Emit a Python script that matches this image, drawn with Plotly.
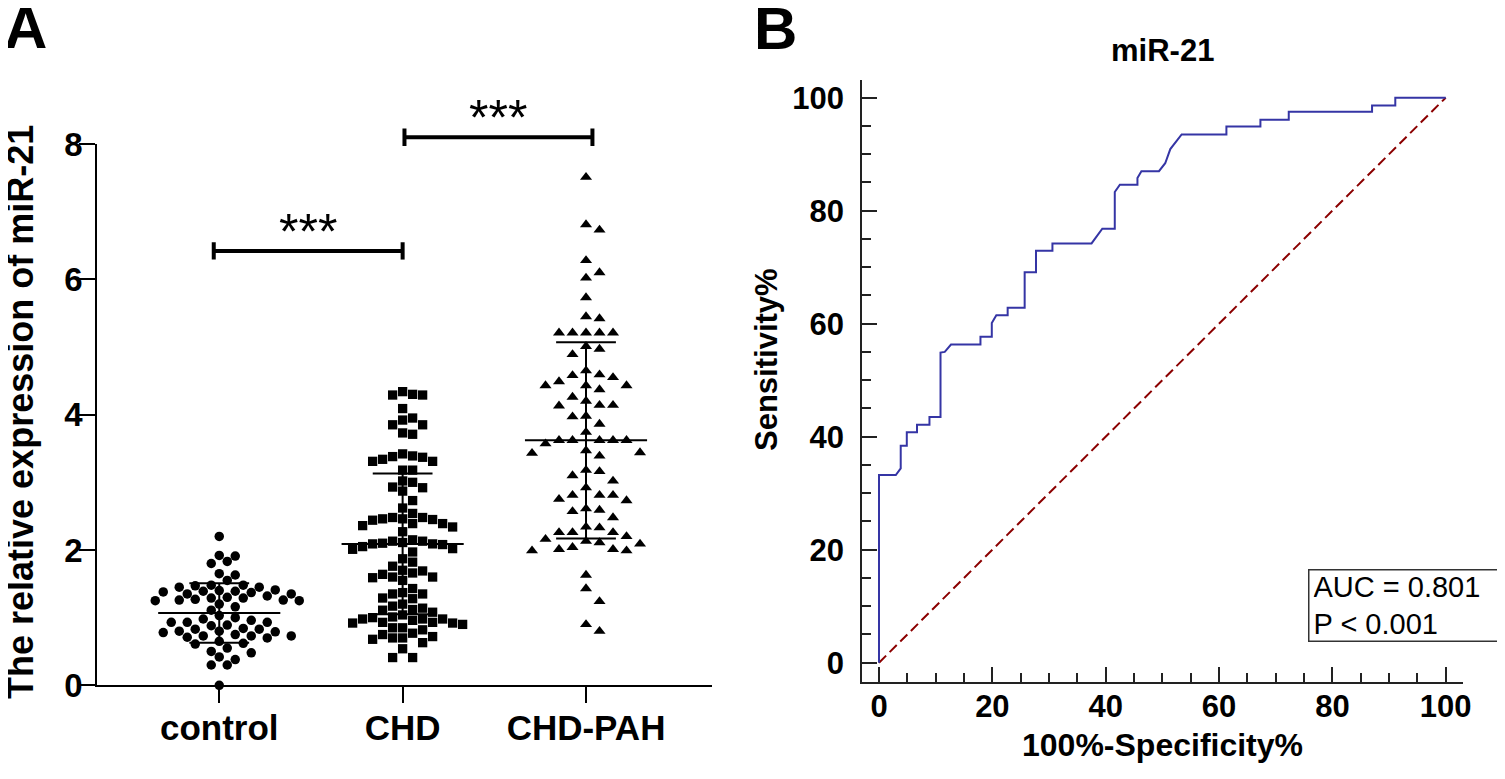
import numpy as np
import plotly.graph_objects as go

# ---- panel A: relative expression of miR-21 per group ----
groups = ["control", "CHD", "CHD-PAH"]
control_vals = [2.20, 1.92, 1.91, 1.83, 1.80, 1.65, 1.63, 1.55, 1.48, 1.48, 1.47, 1.45, 1.45,
                1.41, 1.40, 1.39, 1.39, 1.38, 1.37, 1.35, 1.35, 1.32, 1.30, 1.29, 1.29, 1.27,
                1.26, 1.26, 1.25, 1.25, 1.20, 1.16, 1.11, 1.03, 1.00, 0.98, 0.96, 0.93, 0.93,
                0.93, 0.89, 0.88, 0.84, 0.83, 0.83, 0.80, 0.80, 0.79, 0.78, 0.75, 0.73, 0.73,
                0.73, 0.71, 0.70, 0.65, 0.62, 0.61, 0.55, 0.50, 0.48, 0.42, 0.38, 0.30, 0.30, 0.00]
chd_vals = [4.34, 4.30, 4.29, 4.29, 4.09, 3.95, 3.92, 3.85, 3.85, 3.73, 3.71, 3.42, 3.39, 3.38,
            3.37, 3.34, 3.31, 3.31, 3.18, 3.18, 3.02, 3.00, 2.93, 2.92, 2.87, 2.73, 2.62, 2.54,
            2.48, 2.48, 2.46, 2.46, 2.45, 2.44, 2.39, 2.39, 2.36, 2.34, 2.27, 2.15, 2.13, 2.13,
            2.11, 2.10, 2.09, 2.09, 2.08, 2.05, 2.02, 2.01, 1.97, 1.87, 1.82, 1.76, 1.70, 1.69,
            1.66, 1.64, 1.60, 1.60, 1.59, 1.55, 1.43, 1.37, 1.35, 1.35, 1.29, 1.28, 1.20, 1.17,
            1.14, 1.12, 1.11, 1.08, 1.04, 1.01, 1.00, 0.98, 0.98, 0.98, 0.96, 0.93, 0.93, 0.92,
            0.92, 0.90, 0.85, 0.85, 0.82, 0.77, 0.75, 0.72, 0.70, 0.70, 0.68, 0.63, 0.54, 0.41, 0.41]
pah_vals = [7.51, 6.81, 6.73, 6.28, 6.10, 6.02, 5.73, 5.45, 5.42, 5.21, 5.21, 5.21, 5.21, 5.21,
            5.01, 4.97, 4.89, 4.65, 4.59, 4.58, 4.55, 4.49, 4.43, 4.43, 4.43, 4.37, 4.26, 4.20,
            4.14, 4.14, 4.13, 3.98, 3.97, 3.86, 3.74, 3.62, 3.62, 3.62, 3.62, 3.62, 3.57, 3.47,
            3.44, 3.43, 3.39, 3.18, 3.16, 3.10, 3.02, 2.92, 2.81, 2.81, 2.81, 2.75, 2.73, 2.61,
            2.59, 2.57, 2.48, 2.34, 2.33, 2.26, 2.26, 2.26, 2.20, 2.16, 2.13, 2.11, 2.09, 2.04,
            2.01, 2.01, 1.99, 1.99, 1.63, 1.43, 1.24, 0.90, 0.80]
group_mean = [1.07, 2.09, 3.62]
group_sd = [0.44, 1.04, 1.45]
sig_pairs = [(0, 1), (1, 2)]
sig_level = [6.42, 8.10]
sig_text = ["***", "***"]

# ---- panel B: ROC curve ----
roc_fpr = [0, 0, 2.96, 3.83, 3.83, 4.9, 4.9, 6.7, 6.7, 8.9, 8.9, 10.85, 10.85, 11.6, 12.7, 17.9,
           17.9, 19.9, 19.9, 20.7, 22.7, 22.7, 25.7, 25.7, 27.7, 27.7, 30.6, 30.6, 37.5, 39.4,
           41.6, 41.6, 42.5, 45.6, 45.6, 46.3, 49.4, 50.5, 51.4, 53.4, 61.3, 61.3, 67.3, 67.3,
           72.3, 72.3, 87.0, 87.0, 91.1, 91.1, 100]
roc_tpr = [0, 33.2, 33.2, 34.4, 38.4, 38.4, 40.8, 40.8, 42.1, 42.1, 43.5, 43.5, 54.9, 55.0, 56.3,
           56.3, 57.7, 57.7, 60.1, 61.5, 61.5, 62.8, 62.8, 69.1, 69.1, 72.9, 72.9, 74.2, 74.2,
           76.8, 76.8, 83.3, 84.6, 84.6, 85.8, 87.0, 87.0, 88.4, 90.9, 93.5, 93.5, 94.9, 94.9,
           96.1, 96.1, 97.5, 97.5, 98.6, 98.6, 100, 100]
auc_text = "AUC = 0.801"
p_text = "P &lt; 0.001"

W, H = 1505, 779
OFF = 8  # page body margin shifts the whole figure by this much
FONT = "Liberation Sans, Arial, sans-serif"

# pixel boxes of the two plot areas (as seen on screen)
a_left, a_right, a_top, a_bot = 97.3, 712.0, 144.0, 685.3
b_left, b_right, b_top, b_bot = 862.3, 1463.3, 79.6, 681.9
a_xrange = [-0.665, 2.687]
a_yrange = [0, 8]
b_xrange = [-2.95, 103.1]
b_yrange = [-3.4, 103.2]

py_unit = (a_bot - a_top) / (a_yrange[1] - a_yrange[0])
px_cat = (a_right - a_left) / (a_xrange[1] - a_xrange[0])


def swarm(vals, step, gap):
    # simple beeswarm: slide each point sideways until it no longer overlaps
    placed, offs = [], []
    order = [0]
    for j in range(1, 60):
        order += [j, -j]
    for v in vals:
        y = v * py_unit
        for c in order:
            x = c * step
            if all((x - qx) ** 2 + (y - qy) ** 2 >= gap ** 2 for qx, qy in placed):
                break
        placed.append((x, y))
        offs.append(x / px_cat)
    return offs


fig = go.Figure()

styles = [("circle", 9.5, 8.0, 9.5), ("square", 9.3, 10.0, 10.0), ("triangle-up", 10.5, 13.5, 13.0)]
for i, (vals, (sym, size, step, gap)) in enumerate(zip([control_vals, chd_vals, pah_vals], styles)):
    offs = swarm(vals, step, gap)
    fig.add_trace(go.Scatter(
        x=[i + o for o in offs], y=vals, mode="markers", cliponaxis=False,
        marker=dict(symbol=sym, size=size, color="black", line=dict(width=0)),
        showlegend=False, hoverinfo="y", xaxis="x", yaxis="y"))

mx, my = [], []
for i, (m, s) in enumerate(zip(group_mean, group_sd)):
    mx += [i - 0.333, i + 0.333, None, i - 0.163, i + 0.163, None,
           i - 0.163, i + 0.163, None, i, i, None]
    my += [m, m, None, m + s, m + s, None, m - s, m - s, None, m - s, m + s, None]
fig.add_trace(go.Scatter(x=mx, y=my, mode="lines", line=dict(color="black", width=2),
                         showlegend=False, hoverinfo="skip", xaxis="x", yaxis="y"))

shapes = []
annotations = []
cap = 0.128
d = a_yrange[1]
for (g1, g2), lvl, txt_ in zip(sig_pairs, sig_level, sig_text):
    x0, x1 = g1 + (0.01 if g1 else -0.03), g2 + (0.035 if g2 == 2 else 0.0)
    for seg in [(x0, lvl, x1, lvl), (x0, lvl - cap, x0, lvl + cap), (x1, lvl - cap, x1, lvl + cap)]:
        shapes.append(dict(type="line", xref="x", yref="y domain",
                           x0=seg[0], x1=seg[2], y0=seg[1] / d, y1=seg[3] / d,
                           line=dict(color="black", width=4)))
    annotations.append(dict(x=(x0 + x1) / 2, y=(lvl + 0.28) / d, xref="x", yref="y domain",
                            text=txt_, showarrow=False,
                            font=dict(size=50, color="black", family=FONT),
                            xanchor="center", yanchor="middle"))

fig.add_trace(go.Scatter(x=[0, 100], y=[0, 100], mode="lines",
                         line=dict(color="#8b0000", width=2, dash="10px,5px"),
                         showlegend=False, hoverinfo="skip", xaxis="x2", yaxis="y2"))
fig.add_trace(go.Scatter(x=roc_fpr, y=roc_tpr, mode="lines",
                         line=dict(color="#3535a5", width=2),
                         showlegend=False, xaxis="x2", yaxis="y2"))


def pxdom_x(a, b):
    return [(a - OFF) / W, (b - OFF) / W]


def pxdom_y(top, bot):
    return [1 - (bot - OFF) / H, 1 - (top - OFF) / H]


def txt(text, xp, yp, size, bold=True, angle=0, **kw):
    d = dict(text=text, x=(xp - OFF) / W, y=1 - (yp - OFF) / H, xref="paper", yref="paper",
             showarrow=False, textangle=angle, xanchor="center", yanchor="middle",
             font=dict(size=size, color="black", family=FONT, weight="bold" if bold else "normal"))
    d.update(kw)
    return d


annotations += [
    txt("A", 25, 27, 60),
    txt("B", 776, 29, 60),
    txt("The relative expression of miR-21", 21, 412, 36, angle=-90),
    txt("miR-21", 1162, 50, 31),
    txt("Sensitivity%", 766, 360, 31, angle=-90),
    txt("100%-Specificity%", 1162, 745, 32),
    dict(text=auc_text + "<br>" + p_text, x=(1307.7 - OFF) / W, y=1 - (569.3 - OFF) / H,
         xref="paper", yref="paper", showarrow=False, xanchor="left", yanchor="top",
         align="left", width=183, height=62, borderpad=4, bordercolor="#333", borderwidth=1.5,
         bgcolor="white", font=dict(size=29, color="black", family=FONT)),
]

axA = dict(showline=True, linecolor="black", linewidth=2, ticks="outside", ticklen=16,
           tickwidth=2, tickcolor="black", showgrid=False, zeroline=False, layer="below traces",
           tickfont=dict(size=33, color="black", family=FONT, weight="bold"))
axB = dict(showline=True, linecolor="#222", linewidth=2, ticks="inside", ticklen=15,
           tickwidth=2, tickcolor="#222", showgrid=False, zeroline=False, dtick=20, tick0=0,
           minor=dict(ticks="inside", dtick=5, tick0=0, ticklen=9, tickwidth=2, tickcolor="#222"),
           tickfont=dict(size=31, color="black", family=FONT, weight="bold"))

fig.update_layout(
    width=W, height=H, autosize=False,
    margin=dict(l=0, r=0, t=0, b=0, autoexpand=False),
    paper_bgcolor="white", plot_bgcolor="white", font=dict(family=FONT, color="black"),
    xaxis=dict(axA, domain=pxdom_x(a_left, a_right), range=a_xrange, tickvals=[0, 1, 2],
               ticktext=groups, anchor="y", ticklabelstandoff=-5,
               tickfont=dict(size=35, color="black", family=FONT, weight="bold")),
    yaxis=dict(axA, domain=pxdom_y(a_top, a_bot), range=a_yrange, tickvals=[0, 2, 4, 6, 8],
               anchor="x", ticklabelstandoff=-10),
    xaxis2=dict(axB, domain=pxdom_x(b_left, b_right), range=b_xrange, anchor="y2",
                ticklabelstandoff=-4),
    yaxis2=dict(axB, domain=pxdom_y(b_top, b_bot), range=b_yrange, anchor="x2",
                ticklabelstandoff=10),
    shapes=shapes, annotations=annotations, showlegend=False,
)

fig.write_html("out.html")
